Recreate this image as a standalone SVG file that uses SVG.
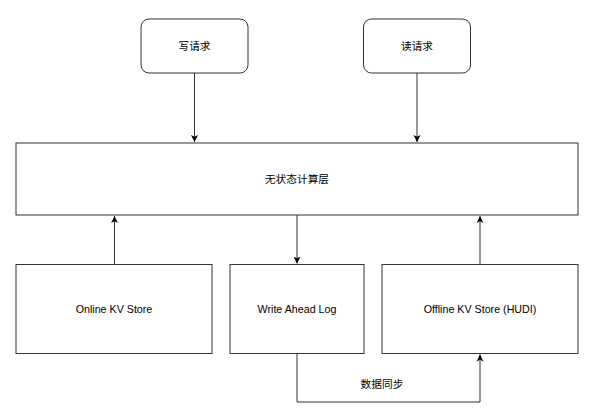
<svg xmlns="http://www.w3.org/2000/svg" width="600" height="418" viewBox="0 0 600 418">
<style>
.box{fill:#fff;stroke:#333;stroke-width:1}
.t{font-family:"Liberation Sans","Noto Sans CJK SC",sans-serif;font-size:10.7px;fill:#000;text-anchor:middle;dominant-baseline:central}
.c{fill:none;stroke:#333;stroke-width:1}
</style>
<defs>
<marker id="a" markerWidth="8" markerHeight="8" refX="7" refY="4" orient="auto" markerUnits="userSpaceOnUse">
<path d="M0,0.5 L7,4 L0,7.5 L1.8,4 Z" fill="#000"/>
</marker>
</defs>
<rect width="600" height="418" fill="#fff"/>
<g id="write-req"><rect class="box" x="141" y="19" width="107" height="54" rx="8"/><text class="t" x="194.5" y="46">写请求</text></g>
<g id="read-req"><rect class="box" x="363.5" y="19" width="107" height="54" rx="8"/><text class="t" x="417" y="46">读请求</text></g>
<g id="compute"><rect class="box" x="16" y="143" width="562" height="72"/><text class="t" x="297" y="179">无状态计算层</text></g>
<g id="online"><rect class="box" x="16" y="264.5" width="196" height="89"/><text class="t" x="114" y="309">Online KV Store</text></g>
<g id="wal"><rect class="box" x="230" y="264.5" width="134" height="89"/><text class="t" x="297" y="309">Write Ahead Log</text></g>
<g id="offline"><rect class="box" x="382" y="264.5" width="196" height="89"/><text class="t" x="480" y="309">Offline KV Store (HUDI)</text></g>
<g id="connectors">
<path class="c" d="M194.5,73 V142" marker-end="url(#a)"/>
<path class="c" d="M417,73 V142" marker-end="url(#a)"/>
<path class="c" d="M114.5,264.5 V216" marker-end="url(#a)"/>
<path class="c" d="M297,215 V263.5" marker-end="url(#a)"/>
<path class="c" d="M480,264.5 V216" marker-end="url(#a)"/>
<path class="c" d="M297,353.5 V402 H480 V354.5" marker-end="url(#a)"/>
<text class="t" x="382" y="384">数据同步</text>
</g>
</svg>
